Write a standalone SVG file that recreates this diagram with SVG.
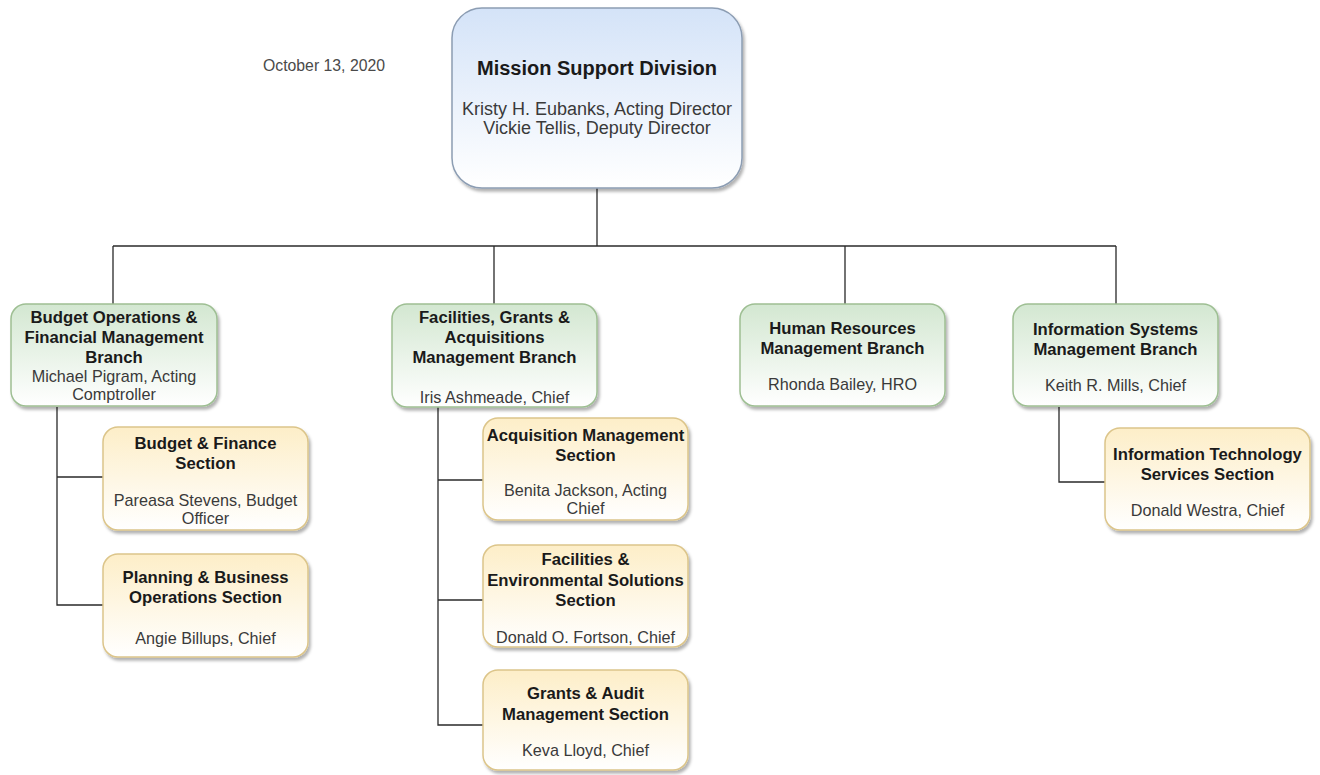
<svg xmlns="http://www.w3.org/2000/svg" width="1320" height="775" viewBox="0 0 1320 775">
<defs>
<linearGradient id="gBlue" x1="0" y1="0" x2="0" y2="1"><stop offset="0" stop-color="#d4e3f8"/><stop offset="1" stop-color="#ffffff"/></linearGradient>
<linearGradient id="gGreen" x1="0" y1="0" x2="0" y2="1"><stop offset="0" stop-color="#d3e7d1"/><stop offset="1" stop-color="#ffffff"/></linearGradient>
<linearGradient id="gYellow" x1="0" y1="0" x2="0" y2="1"><stop offset="0" stop-color="#fdeec8"/><stop offset="1" stop-color="#ffffff"/></linearGradient>
<filter id="sh" x="-10%" y="-10%" width="130%" height="130%"><feDropShadow dx="2" dy="3" stdDeviation="1.5" flood-color="#000" flood-opacity="0.3"/></filter>
<style>
.blue{fill:url(#gBlue);stroke:#8c9db3;stroke-width:1.5;filter:url(#sh)}
.green{fill:url(#gGreen);stroke:#9ebf93;stroke-width:1.5;filter:url(#sh)}
.yellow{fill:url(#gYellow);stroke:#dcc58a;stroke-width:1.5;filter:url(#sh)}
text{font-family:"Liberation Sans",Arial,sans-serif;text-anchor:middle}
.b{font-weight:bold;font-size:16.7px;fill:#1a1a1a}
.n{font-size:16.2px;fill:#3a3a3a}
.t{font-weight:bold;font-size:20px;fill:#1a1a1a}
.tn{font-size:18px;fill:#3a3a3a}
.conn{fill:none;stroke:#2a2a2a;stroke-width:1.3}
</style>
</defs>
<rect width="1320" height="775" fill="#ffffff"/>
<text x="324" y="71" class="n" style="font-size:15.8px;fill:#4a4a4a">October 13, 2020</text>
<g id="connectors" class="conn">
<path d="M597 188V246"/>
<path d="M113 246H1116"/>
<path d="M113 246V304M494 246V304M845 246V304M1116 246V304"/>
<path d="M57 407V605H103M57 477H103"/>
<path d="M438 407V725H483M438 480H483M438 600H483"/>
<path d="M1059 407V482H1105"/>
</g>
<g id="mission-support">
<rect x="452" y="8" width="290" height="180" rx="30" class="blue"/>
<text x="597" y="75" class="t">Mission Support Division</text>
<text x="597" y="115" class="tn">Kristy H. Eubanks, Acting Director</text>
<text x="597" y="134" class="tn">Vickie Tellis, Deputy Director</text>
</g>
<g id="budget-ops">
<rect x="11" y="304" width="206" height="102" rx="15" class="green"/>
<text x="114" y="323" class="b">Budget Operations &amp;</text>
<text x="114" y="343" class="b">Financial Management</text>
<text x="114" y="363" class="b">Branch</text>
<text x="114" y="382" class="n">Michael Pigram, Acting</text>
<text x="114" y="400" class="n">Comptroller</text>
</g>
<g id="budget-finance">
<rect x="103" y="427" width="205" height="103" rx="15" class="yellow"/>
<text x="205.5" y="449" class="b">Budget &amp; Finance</text>
<text x="205.5" y="469" class="b">Section</text>
<text x="205.5" y="506" class="n">Pareasa Stevens, Budget</text>
<text x="205.5" y="524" class="n">Officer</text>
</g>
<g id="planning">
<rect x="103" y="554" width="205" height="103" rx="15" class="yellow"/>
<text x="205.5" y="583" class="b">Planning &amp; Business</text>
<text x="205.5" y="603" class="b">Operations Section</text>
<text x="205.5" y="644" class="n">Angie Billups, Chief</text>
</g>
<g id="facilities-branch">
<rect x="392" y="304" width="205" height="103" rx="15" class="green"/>
<text x="494.5" y="323" class="b">Facilities, Grants &amp;</text>
<text x="494.5" y="343" class="b">Acquisitions</text>
<text x="494.5" y="363" class="b">Management Branch</text>
<text x="494.5" y="403" class="n">Iris Ashmeade, Chief</text>
</g>
<g id="acquisition">
<rect x="483" y="418" width="205" height="102" rx="15" class="yellow"/>
<text x="585.5" y="441" class="b">Acquisition Management</text>
<text x="585.5" y="461" class="b">Section</text>
<text x="585.5" y="496" class="n">Benita Jackson, Acting</text>
<text x="585.5" y="514" class="n">Chief</text>
</g>
<g id="facilities-env">
<rect x="483" y="545" width="205" height="102" rx="15" class="yellow"/>
<text x="585.5" y="565" class="b">Facilities &amp;</text>
<text x="585.5" y="586" class="b">Environmental Solutions</text>
<text x="585.5" y="606" class="b">Section</text>
<text x="585.5" y="643" class="n">Donald O. Fortson, Chief</text>
</g>
<g id="grants-audit">
<rect x="483" y="670" width="205" height="100" rx="15" class="yellow"/>
<text x="585.5" y="699" class="b">Grants &amp; Audit</text>
<text x="585.5" y="720" class="b">Management Section</text>
<text x="585.5" y="756" class="n">Keva Lloyd, Chief</text>
</g>
<g id="human-resources">
<rect x="740" y="304" width="205" height="102" rx="15" class="green"/>
<text x="842.5" y="334" class="b">Human Resources</text>
<text x="842.5" y="354" class="b">Management Branch</text>
<text x="842.5" y="390" class="n">Rhonda Bailey, HRO</text>
</g>
<g id="info-systems">
<rect x="1013" y="304" width="205" height="102" rx="15" class="green"/>
<text x="1115.5" y="335" class="b">Information Systems</text>
<text x="1115.5" y="355" class="b">Management Branch</text>
<text x="1115.5" y="391" class="n">Keith R. Mills, Chief</text>
</g>
<g id="it-services">
<rect x="1105" y="428" width="205" height="102" rx="15" class="yellow"/>
<text x="1207.5" y="460" class="b">Information Technology</text>
<text x="1207.5" y="480" class="b">Services Section</text>
<text x="1207.5" y="516" class="n">Donald Westra, Chief</text>
</g>
</svg>
